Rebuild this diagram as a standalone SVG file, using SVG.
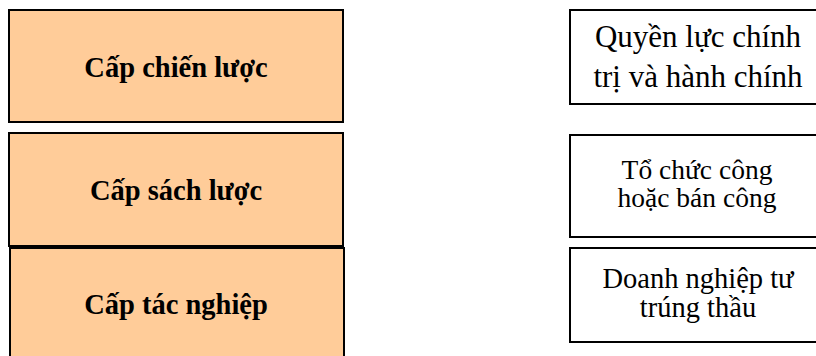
<svg xmlns="http://www.w3.org/2000/svg" width="816" height="356" viewBox="0 0 816 356">
  <style>
    .level { fill: #FFCC99; stroke: #000; stroke-width: 2; }
    .actor { fill: #FFFFFF; stroke: #000; stroke-width: 2; }
    .lbl-b { font-family: "Liberation Serif", "Times New Roman", serif; font-weight: bold; font-size: 28.5px; fill: #000; text-anchor: middle; }
    .lbl { font-family: "Liberation Serif", "Times New Roman", serif; font-size: 28.5px; fill: #000; text-anchor: middle; }
    .lbl-l { font-size: 31px; }
    .lbl-s { font-size: 27.5px; }
  </style>
  <rect width="816" height="356" fill="#FFFFFF"/>

  <!-- management levels -->
  <g id="strategic">
    <rect class="level" x="9" y="10" width="334" height="112"/>
    <text class="lbl-b" x="176" y="77">Cấp chiến lược</text>
  </g>
  <g id="tactical">
    <rect class="level" x="9" y="133" width="334" height="113"/>
    <text class="lbl-b" x="176" y="200">Cấp sách lược</text>
  </g>
  <g id="operational">
    <rect class="level" x="10" y="248" width="334" height="120"/>
    <text class="lbl-b" x="176" y="314">Cấp tác nghiệp</text>
  </g>

  <!-- responsible actors -->
  <g id="political">
    <rect class="actor" x="570" y="10" width="260" height="94"/>
    <text class="lbl lbl-l" x="698" y="47">Quyền lực chính</text>
    <text class="lbl lbl-l" x="698" y="87">trị và hành chính</text>
  </g>
  <g id="public-org">
    <rect class="actor" x="570" y="135" width="260" height="102"/>
    <text class="lbl lbl-s" x="697" y="179">Tổ chức công</text>
    <text class="lbl lbl-s" x="697" y="207">hoặc bán công</text>
  </g>
  <g id="private-firm">
    <rect class="actor" x="570" y="248" width="260" height="94"/>
    <text class="lbl" x="698" y="288">Doanh nghiệp tư</text>
    <text class="lbl" x="698" y="317">trúng thầu</text>
  </g>

  <g id="connectors"></g>
</svg>
